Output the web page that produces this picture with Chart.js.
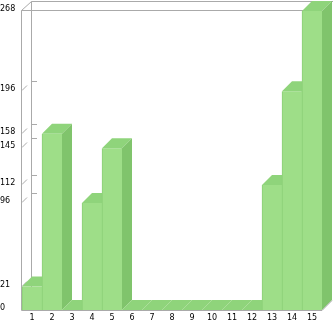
<!DOCTYPE html>
<html lang="en">
<head>
<meta charset="UTF-8">
<title>Bars</title>
<style>
    html, body { margin: 0; padding: 0; background: #fff; }
    canvas { display: block; }
</style>
</head>
<body>
<canvas id="chart" width="333" height="321"></canvas>
<script src="https://cdn.jsdelivr.net/npm/chart.js@4/dist/chart.umd.min.js"></script>
<script>
    const categories = ['1', '2', '3', '4', '5', '6', '7', '8', '9', '10', '11', '12', '13', '14', '15'];
    const values = [21, 158, 0, 96, 145, 0, 0, 0, 0, 0, 0, 0, 112, 196, 268];
    const yTicks = [0, 21, 96, 112, 145, 158, 196, 268];

    const DEPTH = 10;
    const GRAY = '#aaaaaa';

    function line(ctx, x1, y1, x2, y2) {
        ctx.beginPath();
        ctx.moveTo(x1, y1);
        ctx.lineTo(x2, y2);
        ctx.stroke();
    }

    function poly(ctx, pts, color) {
        ctx.beginPath();
        ctx.moveTo(pts[0][0], pts[0][1]);
        for (let i = 1; i < pts.length; i++) ctx.lineTo(pts[i][0], pts[i][1]);
        ctx.closePath();
        ctx.fillStyle = color;
        ctx.fill();
    }

    // draws the frame and the bars with top and side faces, one bar at a time
    const bars3d = {
        id: 'bars3d',
        beforeDatasetsDraw(chart) {
            const ctx = chart.ctx;
            const a = chart.chartArea;
            const y = chart.scales.y;
            const d = DEPTH;
            ctx.save();
            ctx.strokeStyle = GRAY;
            ctx.lineWidth = 1;
            // back wall
            line(ctx, a.left + d - 0.5, a.top - d + 0.5, a.left + d - 0.5, a.bottom - d);
            line(ctx, a.left + d - 0.5, a.top - d + 0.5, chart.width, a.top - d + 0.5);
            // front frame
            line(ctx, a.left - 0.5, a.top - 0.5, a.left - 0.5, a.bottom + 0.5);
            line(ctx, a.left - 0.5, a.top - 0.5, a.right, a.top - 0.5);
            line(ctx, a.left - 0.5, a.top - 0.5, a.left + d - 0.5, a.top - d + 0.5);
            line(ctx, a.left - 0.5, a.bottom + 0.5, a.right, a.bottom + 0.5);
            // tick marks
            yTicks.forEach(v => {
                if (v === 0 || v === 268) return;
                const py = Math.round(y.getPixelForValue(v));
                line(ctx, a.left + d - 0.5, py - d + 0.5, a.left + d + 5, py - d + 0.5);
                line(ctx, a.left, py - 0.5, a.left + 5, py - 5.5);
            });

            const meta = chart.getDatasetMeta(0);
            meta.data.forEach(el => {
                el.draw(ctx, a);
                const p = el.getProps(['x', 'y', 'base', 'width'], true);
                const x1 = p.x - p.width / 2;
                const x2 = p.x + p.width / 2;
                const top = Math.min(p.y, p.base);
                const bot = Math.max(p.y, p.base);
                poly(ctx, [[x1, top], [x1 + d, top - d], [x2 + d, top - d], [x2, top]], '#8fd47b');
                poly(ctx, [[x2, top], [x2 + d, top - d], [x2 + d, bot - d], [x2, bot]], '#80c46c');
            });

            ctx.strokeStyle = GRAY;
            line(ctx, a.right, a.bottom + 0.5, a.right + d, a.bottom - d + 0.5);
            ctx.restore();
            return false;
        }
    };

    const ctx = document.getElementById('chart').getContext('2d');
    new Chart(ctx, {
        type: 'bar',
        data: {
            labels: categories,
            datasets: [{
                data: values,
                backgroundColor: '#9ede88',
                borderColor: '#8bcf77',
                borderWidth: { left: 1, right: 0, top: 0, bottom: 0 },
                borderSkipped: false,
                categoryPercentage: 1,
                barPercentage: 1
            }]
        },
        options: {
            responsive: false,
            animation: false,
            devicePixelRatio: 1,
            layout: { padding: { top: 11, right: 11, left: 0, bottom: 0 } },
            plugins: {
                legend: { display: false },
                tooltip: { enabled: false }
            },
            scales: {
                x: {
                    grid: { display: false, drawTicks: false },
                    border: { display: false },
                    ticks: {
                        color: '#000',
                        font: { family: 'DejaVu Sans', size: 8 },
                        padding: 3,
                        maxRotation: 0,
                        autoSkip: false
                    },
                    afterFit(s) { s.height = 11; }
                },
                y: {
                    min: 0,
                    max: 268,
                    afterBuildTicks(s) { s.ticks = yTicks.map(v => ({ value: v })); },
                    grid: { display: false, drawTicks: false },
                    border: { display: false },
                    ticks: {
                        color: '#000',
                        font: { family: 'DejaVu Sans', size: 8 },
                        crossAlign: 'far',
                        labelOffset: -2,
                        padding: 0
                    },
                    afterFit(s) { s.width = 22; }
                }
            }
        },
        plugins: [bars3d]
    });
</script>
</body>
</html>
